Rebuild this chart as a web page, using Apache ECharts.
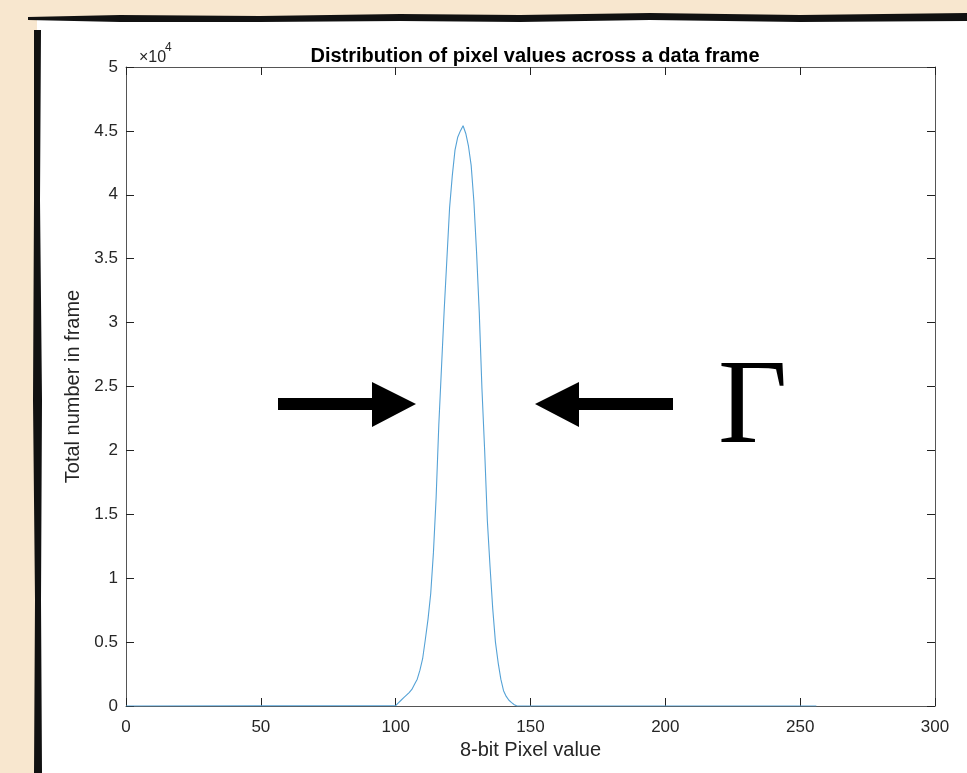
<!DOCTYPE html>
<html>
<head>
<meta charset="utf-8">
<script src="https://cdn.jsdelivr.net/npm/echarts@6/dist/echarts.min.js"></script>
<style>
  html, body { margin: 0; padding: 0; background: #f8e7cf; }
  #chart { width: 967px; height: 773px; }
</style>
</head>
<body>
<div id="chart"></div>
<script>
// Histogram of 8-bit pixel values (counts per value)
const pixelValues = [0, 100, 101, 102, 103, 104, 105, 106, 107, 108, 109, 110,
  111, 112, 113, 114, 115, 116, 117, 118, 119, 120, 121, 122, 123, 124, 125,
  126, 127, 128, 129, 130, 131, 132, 133, 134, 135, 136, 137, 138, 139, 140,
  141, 142, 143, 144, 145, 256];
const pixelCounts = [0, 30, 250, 450, 650, 850, 1050, 1300, 1700, 2100, 2800, 3700,
  5200, 6800, 8800, 12000, 16300, 22000, 26500, 31000, 35000, 39000, 41500, 43500, 44500, 45000, 45400,
  44800, 43800, 42300, 39500, 35500, 30800, 24800, 20000, 14500, 10900, 7600, 5000, 3400, 2100, 1200,
  750, 450, 260, 100, 0, 0];

const xTicks = [0, 50, 100, 150, 200, 250, 300];
const yTickLabels = ['0', '0.5', '1', '1.5', '2', '2.5', '3', '3.5', '4', '4.5', '5'];

const FONT = 'Liberation Sans, Arial, Helvetica, sans-serif';
const AX = '#555555';
const TXT = '#262626';

const chart = echarts.init(document.getElementById('chart'), null, { renderer: 'canvas' });

const seriesData = pixelValues.map((v, i) => [v, pixelCounts[i]]);

const baseX = {
  type: 'value', min: 0, max: 300, interval: 50,
  axisLine: { show: true, onZero: false, lineStyle: { color: AX, width: 1 } },
  axisTick: { show: true, inside: true, length: 8, lineStyle: { color: '#222', width: 1 } },
  splitLine: { show: false }
};
const baseY = {
  type: 'value', min: 0, max: 50000, interval: 5000,
  axisLine: { show: true, onZero: false, lineStyle: { color: AX, width: 1 } },
  axisTick: { show: true, inside: true, length: 8, lineStyle: { color: '#222', width: 1 } },
  splitLine: { show: false }
};

chart.setOption({
  backgroundColor: '#f8e7cf',
  animation: false,
  title: {
    text: 'Distribution of pixel values across a data frame',
    left: 530, top: 41, textAlign: 'center',
    textStyle: { fontFamily: FONT, fontSize: 20, fontWeight: 'bold', color: '#000' }
  },
  grid: { left: 126, right: 32, top: 67, bottom: 67, containLabel: false },
  xAxis: [
    Object.assign({}, baseX, {
      position: 'bottom',
      name: '8-bit Pixel value', nameLocation: 'middle', nameGap: 33,
      nameTextStyle: { fontFamily: FONT, fontSize: 20, color: TXT },
      axisLabel: {
        margin: 13, fontFamily: FONT, fontSize: 17, color: TXT,
        formatter: v => (xTicks.indexOf(v) >= 0 ? String(v) : '')
      }
    }),
    Object.assign({}, baseX, { position: 'top', axisLabel: { show: false } })
  ],
  yAxis: [
    Object.assign({}, baseY, {
      position: 'left',
      name: 'Total number in frame', nameLocation: 'middle', nameGap: 41,
      nameTextStyle: { fontFamily: FONT, fontSize: 20, color: TXT },
      axisLabel: {
        margin: 8, fontFamily: FONT, fontSize: 17, color: TXT,
        formatter: v => yTickLabels[Math.round(v / 5000)]
      }
    }),
    Object.assign({}, baseY, { position: 'right', axisLabel: { show: false } })
  ],
  series: [{
    type: 'line',
    data: seriesData,
    showSymbol: false,
    lineStyle: { color: '#55a2d6', width: 1.1 },
    z: 5
  }],
  graphic: [
    // white page behind the plot
    { type: 'rect', z: -100, shape: { x: 37, y: 19, width: 940, height: 760 }, style: { fill: '#ffffff' } },
    // rough black edge along the top
    { type: 'polygon', z: -90, shape: { points: [[28, 17], [120, 15], [260, 16], [400, 14], [520, 15], [650, 13], [800, 15], [967, 13],
        [967, 21], [800, 22], [650, 20], [520, 22], [400, 21], [260, 22], [120, 22], [28, 20]] },
      style: { fill: '#111' } },
    // rough black edge along the left
    { type: 'polygon', z: -90, shape: { points: [[34, 30], [41, 30], [40, 200], [42, 400], [41, 600], [42, 773],
        [34, 773], [35, 600], [33, 400], [34, 200]] },
      style: { fill: '#111' } },
    // arrow pointing right
    { type: 'polygon', z: 10, shape: { points: [[278, 398], [372, 398], [372, 382], [416, 404], [372, 427], [372, 410], [278, 410]] },
      style: { fill: '#000' } },
    // arrow pointing left
    { type: 'polygon', z: 10, shape: { points: [[673, 398], [579, 398], [579, 382], [535, 404], [579, 427], [579, 410], [673, 410]] },
      style: { fill: '#000' } },
    // ×10^4 exponent marker
    { type: 'text', z: 10, x: 139, y: 58,
      style: { text: '×10', fontFamily: FONT, fontSize: 16, fill: TXT, textVerticalAlign: 'middle' } },
    { type: 'text', z: 10, x: 165, y: 48,
      style: { text: '4', fontFamily: FONT, fontSize: 12, fill: TXT, textVerticalAlign: 'middle' } },
    // Gamma symbol
    { type: 'text', z: 10, x: 718, y: 410,
      style: { text: 'Γ', fontFamily: 'Liberation Serif, DejaVu Serif, serif', fontSize: 120,
        fill: '#000', textAlign: 'left', textVerticalAlign: 'middle' } }
  ]
});
</script>
</body>
</html>
